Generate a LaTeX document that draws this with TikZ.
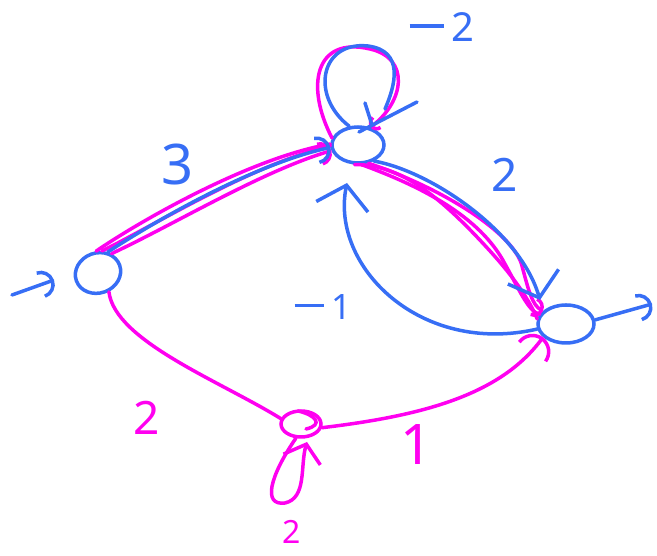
\documentclass[tikz,border=0pt]{standalone}
\usepackage{fontspec}
\setmainfont{Noto Sans}
\usetikzlibrary{shapes.geometric,arrows.meta}
\definecolor{penblue}{RGB}{55,110,245}
\definecolor{penmag}{RGB}{255,0,240}
\newcommand{\handminus}{\rule[0.36em]{0.85em}{0.09em}\hspace{0.2em}}
\tikzset{
  stroke/.style={line width=3.5pt,line cap=round,line join=round},
  bl/.style={stroke,draw=penblue},
  mg/.style={stroke,draw=penmag},
  state/.style={ellipse,line width=3.5pt,inner sep=0pt},
  lab/.style={inner sep=0pt,anchor=base,text depth=0pt,font=\fontsize{#1}{#1}\selectfont},
  arc/.style={-{Arc Barb[length=#1,width=2*#1,line width=3.5pt]}},
  vee/.style={-{Straight Barb[length=#1,width=2.4*#1,line width=3.5pt]}}
}
\begin{document}
\begin{tikzpicture}[x=1pt,y=1pt]
\useasboundingbox (0,0) rectangle (657,556);
% states
\node[state,draw=penblue,minimum width=46pt,minimum height=40pt,rotate=20] (A) at (98,283) {};
\node[state,draw=penblue,minimum width=52pt,minimum height=36pt] (T) at (358,411) {};
\node[state,draw=penblue,minimum width=56pt,minimum height=38pt] (R) at (566,232) {};
\node[state,draw=penmag,minimum width=40pt,minimum height=26pt] (B) at (301,132) {};
% free ends
\coordinate (st0) at (12,261);
\coordinate (st1) at (54,276);
\coordinate (fi1) at (652,252);
\coordinate (tR) at (540,256);
\coordinate (tT) at (347,373);
\coordinate (tB) at (307,114);
% initial / final arrows
\draw[bl,arc=14pt] (st0) -- (st1);
\draw[bl,arc=14pt] (R.8) -- (fi1);
% A -> T
\draw[mg] (A.75) .. controls (140,335) and (250,398) .. (T.178);
\draw[mg] (A.60) .. controls (150,328) and (252,392) .. (T.182);
\draw[mg,arc=12pt] (A.35) .. controls (175,332) and (262,385) .. (T.192);
\draw[bl,arc=14pt] (A.45) .. controls (160,338) and (255,392) .. (T.185);
% T self loops
\draw[mg,arc=8pt] (T.165) .. controls (305,470) and (315,520) .. (370,507) .. controls (410,498) and (405,455) .. (T.55);
\draw[bl] (T.115) .. controls (310,460) and (320,515) .. (368,510) .. controls (405,505) and (395,470) .. (385,447);
\draw[bl] (365,453) -- (372,431);
\draw[bl] (359,424) -- (417,454);
% T -> R
\draw[mg] (T.-100) .. controls (400,392) and (440,360) .. (490,305) .. controls (520,272) and (532,250) .. (R.170);
\draw[mg] (T.-80) .. controls (420,370) and (480,340) .. (505,292) .. controls (520,265) and (528,245) .. (R.160);
\draw[mg,arc=10pt] (T.-60) .. controls (450,365) and (515,320) .. (522,290) .. controls (528,268) and (532,250) .. (R.150);
\draw[bl,vee=22pt] (T.-45) .. controls (430,385) and (520,325) .. (tR);
% R -> T
\draw[bl,vee=22pt] (R.190) .. controls (420,200) and (330,290) .. (tT);
% A -> B
\draw[mg] (A.-80) .. controls (115,215) and (220,175) .. (B.165);
\draw[mg] (298,145) .. controls (316,141) and (324,131) .. (306,127);
% B -> R
\draw[mg,arc=18pt] (B.-10) .. controls (420,140) and (500,160) .. (R.-150);
% B self loop
\draw[mg,vee=16pt] (B.-110) .. controls (270,80) and (262,50) .. (285,53) .. controls (307,58) and (300,90) .. (tB);
% labels
\node[lab=56pt,text=penblue] (l3) at (178,371) {3};
\node[lab=40pt,text=penblue] (lm2) at (442,514) {\handminus 2};
\node[lab=46pt,text=penblue] (l2b) at (505,364) {2};
\node[lab=35pt,text=penblue] (lm1) at (323,236) {\handminus 1};
\node[lab=46pt,text=penmag] (l2m) at (147,121) {2};
\node[lab=56pt,text=penmag] (l1m) at (417,91) {1};
\node[lab=32pt,text=penmag] (l2c) at (292,12) {2};
\end{tikzpicture}
\end{document}
